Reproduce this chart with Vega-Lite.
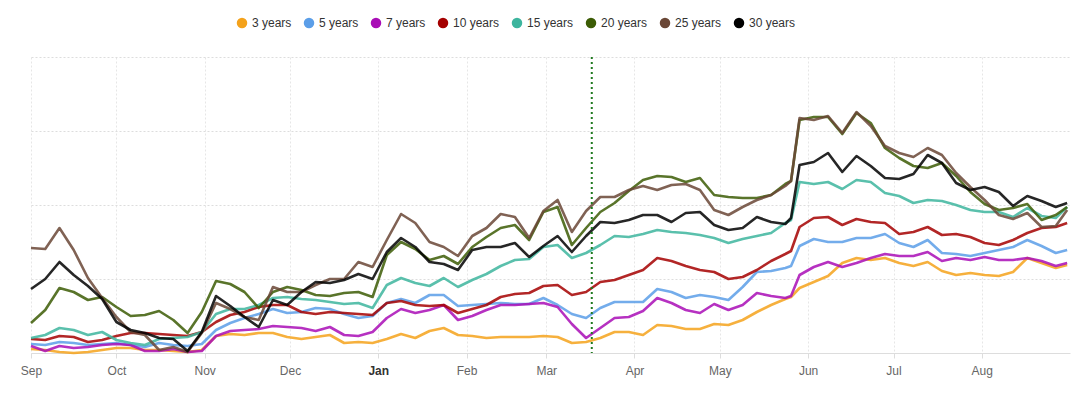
{
  "$schema": "https://vega.github.io/schema/vega-lite/v6.json",
  "width": 1039,
  "height": 296,
  "autosize": {"type": "none"},
  "padding": {"left": 31, "top": 57, "right": 16, "bottom": 40},
  "background": "white",
  "config": {"view": {"stroke": null}, "font": "Liberation Sans"},
  "layer": [
    {
      "data": {"values": [
        {"date":"2022-09-01","3 years":4,"5 years":9,"7 years":7,"10 years":14,"15 years":15,"20 years":30,"25 years":105,"30 years":64},
        {"date":"2022-09-06","3 years":3,"5 years":8,"7 years":2,"10 years":13,"15 years":18,"20 years":43,"25 years":104,"30 years":74},
        {"date":"2022-09-11","3 years":1,"5 years":11,"7 years":7,"10 years":17,"15 years":25,"20 years":65,"25 years":125,"30 years":91},
        {"date":"2022-09-16","3 years":0,"5 years":10,"7 years":5,"10 years":16,"15 years":23,"20 years":61,"25 years":103,"30 years":78},
        {"date":"2022-09-21","3 years":1,"5 years":8,"7 years":6,"10 years":11,"15 years":18,"20 years":53,"25 years":75,"30 years":67},
        {"date":"2022-09-26","3 years":3,"5 years":9,"7 years":8,"10 years":13,"15 years":21,"20 years":56,"25 years":55,"30 years":54},
        {"date":"2022-10-01","3 years":5,"5 years":10,"7 years":9,"10 years":17,"15 years":13,"20 years":46,"25 years":36,"30 years":31},
        {"date":"2022-10-06","3 years":5,"5 years":8,"7 years":8,"10 years":20,"15 years":10,"20 years":37,"25 years":21,"30 years":23},
        {"date":"2022-10-11","3 years":3,"5 years":6,"7 years":2,"10 years":20,"15 years":8,"20 years":38,"25 years":18,"30 years":20},
        {"date":"2022-10-16","3 years":3,"5 years":10,"7 years":2,"10 years":19,"15 years":14,"20 years":42,"25 years":3,"30 years":15},
        {"date":"2022-10-21","3 years":2,"5 years":8,"7 years":4,"10 years":18,"15 years":15,"20 years":33,"25 years":6,"30 years":14},
        {"date":"2022-10-26","3 years":1,"5 years":7,"7 years":1,"10 years":17,"15 years":16,"20 years":20,"25 years":1,"30 years":2},
        {"date":"2022-10-31","3 years":3,"5 years":9,"7 years":2,"10 years":21,"15 years":21,"20 years":41,"25 years":20,"30 years":21},
        {"date":"2022-11-05","3 years":17,"5 years":23,"7 years":17,"10 years":31,"15 years":39,"20 years":72,"25 years":50,"30 years":57},
        {"date":"2022-11-10","3 years":19,"5 years":30,"7 years":22,"10 years":38,"15 years":44,"20 years":69,"25 years":44,"30 years":47},
        {"date":"2022-11-15","3 years":18,"5 years":35,"7 years":23,"10 years":41,"15 years":44,"20 years":61,"25 years":36,"30 years":36},
        {"date":"2022-11-20","3 years":20,"5 years":39,"7 years":24,"10 years":46,"15 years":48,"20 years":45,"25 years":33,"30 years":26},
        {"date":"2022-11-25","3 years":20,"5 years":44,"7 years":27,"10 years":48,"15 years":55,"20 years":61,"25 years":66,"30 years":53},
        {"date":"2022-11-30","3 years":16,"5 years":40,"7 years":26,"10 years":48,"15 years":56,"20 years":66,"25 years":61,"30 years":48},
        {"date":"2022-12-05","3 years":14,"5 years":41,"7 years":25,"10 years":41,"15 years":54,"20 years":63,"25 years":61,"30 years":61},
        {"date":"2022-12-10","3 years":16,"5 years":45,"7 years":22,"10 years":39,"15 years":53,"20 years":58,"25 years":68,"30 years":71},
        {"date":"2022-12-15","3 years":18,"5 years":44,"7 years":26,"10 years":41,"15 years":51,"20 years":57,"25 years":74,"30 years":70},
        {"date":"2022-12-20","3 years":10,"5 years":39,"7 years":18,"10 years":40,"15 years":49,"20 years":60,"25 years":74,"30 years":73},
        {"date":"2022-12-25","3 years":11,"5 years":35,"7 years":17,"10 years":39,"15 years":50,"20 years":61,"25 years":91,"30 years":79},
        {"date":"2022-12-30","3 years":10,"5 years":37,"7 years":21,"10 years":38,"15 years":45,"20 years":56,"25 years":86,"30 years":74},
        {"date":"2023-01-04","3 years":14,"5 years":50,"7 years":35,"10 years":50,"15 years":68,"20 years":98,"25 years":113,"30 years":101},
        {"date":"2023-01-09","3 years":19,"5 years":54,"7 years":44,"10 years":52,"15 years":75,"20 years":111,"25 years":139,"30 years":115},
        {"date":"2023-01-14","3 years":15,"5 years":50,"7 years":40,"10 years":48,"15 years":70,"20 years":104,"25 years":130,"30 years":106},
        {"date":"2023-01-19","3 years":22,"5 years":58,"7 years":43,"10 years":47,"15 years":67,"20 years":93,"25 years":111,"30 years":91},
        {"date":"2023-01-24","3 years":25,"5 years":58,"7 years":48,"10 years":48,"15 years":75,"20 years":97,"25 years":106,"30 years":89},
        {"date":"2023-01-29","3 years":18,"5 years":47,"7 years":33,"10 years":40,"15 years":66,"20 years":89,"25 years":97,"30 years":83},
        {"date":"2023-02-03","3 years":17,"5 years":48,"7 years":37,"10 years":44,"15 years":73,"20 years":106,"25 years":117,"30 years":103},
        {"date":"2023-02-08","3 years":15,"5 years":49,"7 years":43,"10 years":48,"15 years":79,"20 years":116,"25 years":125,"30 years":106},
        {"date":"2023-02-13","3 years":16,"5 years":50,"7 years":48,"10 years":56,"15 years":87,"20 years":125,"25 years":139,"30 years":106},
        {"date":"2023-02-18","3 years":16,"5 years":49,"7 years":48,"10 years":59,"15 years":93,"20 years":128,"25 years":136,"30 years":110},
        {"date":"2023-02-23","3 years":16,"5 years":49,"7 years":49,"10 years":60,"15 years":94,"20 years":113,"25 years":115,"30 years":96},
        {"date":"2023-02-28","3 years":17,"5 years":55,"7 years":50,"10 years":67,"15 years":106,"20 years":141,"25 years":142,"30 years":107},
        {"date":"2023-03-05","3 years":16,"5 years":48,"7 years":46,"10 years":68,"15 years":108,"20 years":146,"25 years":153,"30 years":117},
        {"date":"2023-03-10","3 years":10,"5 years":39,"7 years":29,"10 years":58,"15 years":95,"20 years":108,"25 years":121,"30 years":101},
        {"date":"2023-03-15","3 years":11,"5 years":35,"7 years":15,"10 years":61,"15 years":100,"20 years":125,"25 years":142,"30 years":117},
        {"date":"2023-03-20","3 years":15,"5 years":45,"7 years":25,"10 years":71,"15 years":108,"20 years":141,"25 years":156,"30 years":131},
        {"date":"2023-03-25","3 years":21,"5 years":51,"7 years":35,"10 years":73,"15 years":117,"20 years":150,"25 years":156,"30 years":130},
        {"date":"2023-03-30","3 years":21,"5 years":51,"7 years":36,"10 years":78,"15 years":116,"20 years":162,"25 years":163,"30 years":133},
        {"date":"2023-04-04","3 years":18,"5 years":51,"7 years":42,"10 years":83,"15 years":119,"20 years":173,"25 years":167,"30 years":138},
        {"date":"2023-04-09","3 years":28,"5 years":64,"7 years":55,"10 years":95,"15 years":123,"20 years":177,"25 years":163,"30 years":138},
        {"date":"2023-04-14","3 years":27,"5 years":61,"7 years":50,"10 years":92,"15 years":121,"20 years":176,"25 years":168,"30 years":131},
        {"date":"2023-04-19","3 years":24,"5 years":55,"7 years":43,"10 years":87,"15 years":120,"20 years":171,"25 years":169,"30 years":140},
        {"date":"2023-04-24","3 years":24,"5 years":58,"7 years":40,"10 years":83,"15 years":118,"20 years":175,"25 years":163,"30 years":141},
        {"date":"2023-04-29","3 years":29,"5 years":56,"7 years":49,"10 years":81,"15 years":115,"20 years":158,"25 years":143,"30 years":128},
        {"date":"2023-05-04","3 years":28,"5 years":53,"7 years":43,"10 years":74,"15 years":110,"20 years":156,"25 years":138,"30 years":123},
        {"date":"2023-05-09","3 years":33,"5 years":66,"7 years":48,"10 years":76,"15 years":114,"20 years":155,"25 years":146,"30 years":125},
        {"date":"2023-05-14","3 years":41,"5 years":81,"7 years":60,"10 years":83,"15 years":117,"20 years":155,"25 years":153,"30 years":136},
        {"date":"2023-05-19","3 years":48,"5 years":82,"7 years":57,"10 years":92,"15 years":120,"20 years":158,"25 years":158,"30 years":131},
        {"date":"2023-05-24","3 years":54,"5 years":85,"7 years":55,"10 years":99,"15 years":130,"20 years":169,"25 years":167,"30 years":129},
        {"date":"2023-05-26","3 years":56,"5 years":87,"7 years":57,"10 years":102,"15 years":133,"20 years":172,"25 years":172,"30 years":135},
        {"date":"2023-05-29","3 years":65,"5 years":107,"7 years":78,"10 years":126,"15 years":171,"20 years":233,"25 years":235,"30 years":188},
        {"date":"2023-06-03","3 years":71,"5 years":114,"7 years":86,"10 years":135,"15 years":169,"20 years":236,"25 years":233,"30 years":191},
        {"date":"2023-06-08","3 years":77,"5 years":111,"7 years":91,"10 years":136,"15 years":171,"20 years":236,"25 years":237,"30 years":200},
        {"date":"2023-06-13","3 years":90,"5 years":111,"7 years":86,"10 years":128,"15 years":164,"20 years":219,"25 years":220,"30 years":181},
        {"date":"2023-06-18","3 years":95,"5 years":115,"7 years":90,"10 years":134,"15 years":173,"20 years":240,"25 years":241,"30 years":197},
        {"date":"2023-06-23","3 years":93,"5 years":115,"7 years":95,"10 years":131,"15 years":171,"20 years":230,"25 years":227,"30 years":187},
        {"date":"2023-06-28","3 years":95,"5 years":119,"7 years":99,"10 years":130,"15 years":160,"20 years":205,"25 years":207,"30 years":175},
        {"date":"2023-07-03","3 years":90,"5 years":110,"7 years":97,"10 years":119,"15 years":157,"20 years":195,"25 years":200,"30 years":174},
        {"date":"2023-07-08","3 years":87,"5 years":106,"7 years":97,"10 years":121,"15 years":150,"20 years":187,"25 years":196,"30 years":179},
        {"date":"2023-07-13","3 years":91,"5 years":113,"7 years":101,"10 years":126,"15 years":153,"20 years":185,"25 years":205,"30 years":198},
        {"date":"2023-07-18","3 years":82,"5 years":100,"7 years":92,"10 years":118,"15 years":152,"20 years":190,"25 years":198,"30 years":190},
        {"date":"2023-07-23","3 years":78,"5 years":99,"7 years":95,"10 years":119,"15 years":148,"20 years":177,"25 years":180,"30 years":170},
        {"date":"2023-07-28","3 years":80,"5 years":97,"7 years":93,"10 years":116,"15 years":143,"20 years":161,"25 years":166,"30 years":163},
        {"date":"2023-08-02","3 years":78,"5 years":100,"7 years":96,"10 years":110,"15 years":141,"20 years":149,"25 years":153,"30 years":166},
        {"date":"2023-08-07","3 years":77,"5 years":103,"7 years":93,"10 years":108,"15 years":141,"20 years":143,"25 years":138,"30 years":161},
        {"date":"2023-08-12","3 years":81,"5 years":106,"7 years":93,"10 years":113,"15 years":136,"20 years":145,"25 years":134,"30 years":147},
        {"date":"2023-08-17","3 years":95,"5 years":113,"7 years":95,"10 years":120,"15 years":145,"20 years":149,"25 years":140,"30 years":157},
        {"date":"2023-08-22","3 years":90,"5 years":107,"7 years":92,"10 years":125,"15 years":137,"20 years":133,"25 years":126,"30 years":152},
        {"date":"2023-08-27","3 years":85,"5 years":100,"7 years":87,"10 years":126,"15 years":135,"20 years":138,"25 years":127,"30 years":146},
        {"date":"2023-08-31","3 years":88,"5 years":103,"7 years":90,"10 years":130,"15 years":146,"20 years":146,"25 years":143,"30 years":150}
      ]},
      "transform": [
        {"fold": ["3 years","5 years","7 years","10 years","15 years","20 years","25 years","30 years"], "as": ["series","value"]}
      ],
      "mark": {"type": "line", "strokeWidth": 2.6, "strokeOpacity": 0.85, "strokeJoin": "round", "interpolate": "linear"},
      "encoding": {
        "x": {
          "field": "date", "type": "temporal",
          "scale": {"type": "utc", "domain": [{"year":2022,"month":9,"date":1,"utc":true},{"year":2023,"month":9,"date":1,"utc":true}]},
          "axis": {
            "title": null,
            "values": [
              {"year":2022,"month":9,"date":1,"utc":true},
              {"year":2022,"month":10,"date":1,"utc":true},
              {"year":2022,"month":11,"date":1,"utc":true},
              {"year":2022,"month":12,"date":1,"utc":true},
              {"year":2023,"month":1,"date":1,"utc":true},
              {"year":2023,"month":2,"date":1,"utc":true},
              {"year":2023,"month":3,"date":1,"utc":true},
              {"year":2023,"month":4,"date":1,"utc":true},
              {"year":2023,"month":5,"date":1,"utc":true},
              {"year":2023,"month":6,"date":1,"utc":true},
              {"year":2023,"month":7,"date":1,"utc":true},
              {"year":2023,"month":8,"date":1,"utc":true}
            ],
            "labelExpr": "utcFormat(datum.value, '%b')",
            "labelFont": "Liberation Sans",
            "labelFontSize": 12,
            "labelColor": {"condition": {"test": "utcmonth(datum.value) === 0", "value": "#333333"}, "value": "#666666"},
            "labelFontWeight": {"condition": {"test": "utcmonth(datum.value) === 0", "value": "bold"}, "value": "normal"},
            "labelPadding": 7,
            "labelFlush": false,
            "tickSize": 5,
            "tickColor": "#dddddd",
            "domainColor": "#dddddd",
            "grid": true,
            "gridColor": "#e6e6e6",
            "gridDash": [2, 2]
          }
        },
        "y": {
          "field": "value", "type": "quantitative",
          "scale": {"domain": [0, 296], "nice": false, "zero": true},
          "axis": {
            "title": null, "labels": false, "ticks": false, "domain": false,
            "values": [0, 74, 148, 222, 296],
            "grid": true, "gridColor": "#dddddd", "gridDash": [2, 2]
          }
        },
        "color": {
          "field": "series", "type": "nominal",
          "scale": {
            "domain": ["3 years","5 years","7 years","10 years","15 years","20 years","25 years","30 years"],
            "range": ["#F4A21B","#5B9EE8","#A90DB6","#A50000","#3DB59E","#3C5C05","#6A4736","#000000"]
          },
          "legend": {
            "title": null,
            "orient": "none",
            "legendX": 205,
            "legendY": -40,
            "direction": "horizontal",
            "columns": 8,
            "padding": 0,
            "symbolType": "circle",
            "symbolSize": 110,
            "symbolStrokeWidth": 0,
            "symbolOpacity": 1,
            "labelFont": "Liberation Sans",
            "labelFontSize": 12,
            "labelColor": "#333333",
            "labelOffset": 4,
            "columnPadding": 11,
            "encode": {"symbols": {"update": {"fill": {"scale": "color", "field": "value"}, "opacity": {"value": 1}, "strokeWidth": {"value": 0}}}}
          }
        }
      }
    },
    {
      "data": {"values": [{"date": "2023-03-17"}]},
      "mark": {"type": "rule", "color": "#1f7a1f", "strokeDash": [2, 3], "strokeWidth": 2},
      "encoding": {"x": {"field": "date", "type": "temporal", "scale": {"type": "utc"}}}
    }
  ]
}
